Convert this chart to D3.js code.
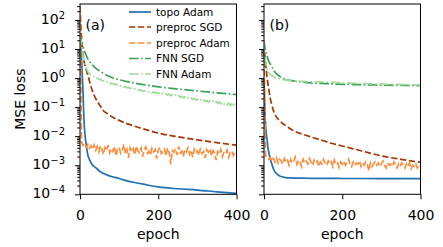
<!DOCTYPE html>
<html>
<head>
<meta charset="utf-8">
<script src="https://cdn.jsdelivr.net/npm/d3@7"></script>
<style>
  body { margin: 0; background: #fff; }
  text { font-family: "DejaVu Sans", sans-serif; fill: #000; }
</style>
</head>
<body>
<div id="chart"></div>
<script>
const w = 443;
const h = 247;

// epochs for the smooth curves
const epochs = [0, 2, 4, 6, 8, 10, 13, 16, 20, 25, 30, 40, 50, 60, 70, 80, 100, 120, 150, 175, 200, 250, 300, 350, 400];
// epochs for the noisy curves (every 4th epoch)
const noisyEpochs = d3.range(0, 401, 4);

const names = ['topo Adam', 'preproc SGD', 'preproc Adam', 'FNN SGD', 'FNN Adam'];
const colors = ['#2171b5', '#a63603', '#fd8d3c', '#31a354', '#a1d99b'];
const dashes = [null, '6.3,2.7', '6.3,2.7', '9.6,2.5,1.6,2.5', '9.6,2.5,1.6,2.5'];

const yTicks = [1e-4, 1e-3, 1e-2, 1e-1, 1e0, 1e1, 1e2];
const yTickExp = ['\u22124', '\u22123', '\u22122', '\u22121', '0', '1', '2'];
const xTicks = [0, 200, 400];

// ---- panel (a) ----
const topoA = [35, 12, 4, 1.2, 0.25, 0.04, 0.01, 0.005, 0.0023, 0.0015, 0.0011, 0.00083, 0.00062, 0.00052, 0.00046, 0.00041, 0.00035, 0.00029, 0.00024, 0.000205, 0.00018, 0.000155, 0.00014, 0.000122, 0.000108];
const sgdA = [300, 60, 25, 11, 6.5, 4, 2.6, 1.9, 1.3, 0.72, 0.42, 0.2, 0.12, 0.075, 0.06, 0.048, 0.035, 0.027, 0.02, 0.0158, 0.0128, 0.0095, 0.0075, 0.006, 0.0049];
const adamA = [300, 0.0062, 0.0048, 0.0055, 0.0041, 0.0052, 0.0038, 0.0047, 0.0035, 0.0050,
  0.0033, 0.0044, 0.0029, 0.0046, 0.0036, 0.0024, 0.0041, 0.0032, 0.0049, 0.0027,
  0.0038, 0.0030, 0.0045, 0.0021, 0.0036, 0.0042, 0.0026, 0.0033, 0.0052, 0.0025,
  0.0035, 0.0018, 0.0040, 0.0029, 0.0037, 0.0023, 0.0046, 0.0031, 0.0027, 0.0039,
  0.0020, 0.0034, 0.0043, 0.0026, 0.0031, 0.0022, 0.0038, 0.0029, 0.0035, 0.0017,
  0.0033, 0.0041, 0.0025, 0.0030, 0.0036, 0.0021, 0.0039, 0.0027, 0.0011, 0.0032,
  0.0028, 0.0037, 0.0023, 0.0044, 0.0026, 0.0031, 0.0020, 0.0035, 0.0029, 0.0040,
  0.0024, 0.0033, 0.0019, 0.0036, 0.0027, 0.0031, 0.0022, 0.0039, 0.0025, 0.0030,
  0.0018, 0.0034, 0.0028, 0.0037, 0.0021, 0.0032, 0.0026, 0.0015, 0.0030, 0.0024,
  0.0035, 0.0020, 0.0029, 0.0026, 0.0033, 0.0019, 0.0027, 0.0031, 0.0022, 0.0028, 0.0024];
const fnnSgdA = [30, 22, 17, 14, 11.5, 9.5, 7.5, 6, 4.6, 3.6, 3.0, 2.2, 1.75, 1.45, 1.22, 1.07, 0.88, 0.76, 0.63, 0.56, 0.5, 0.42, 0.36, 0.31, 0.27];
const fnnAdamA = [30, 14, 6, 3.6, 2.2, 1.65, 1.4, 1.27, 1.12, 1.14,
  1.02, 0.99, 0.88, 0.93, 0.81, 0.80, 0.73, 0.76, 0.68, 0.71,
  0.64, 0.66, 0.60, 0.63, 0.56, 0.58, 0.53, 0.55, 0.49, 0.51,
  0.46, 0.48, 0.44, 0.45, 0.41, 0.43, 0.39, 0.40, 0.37, 0.39,
  0.35, 0.37, 0.34, 0.36, 0.33, 0.34, 0.31, 0.33, 0.30, 0.32,
  0.30, 0.31, 0.28, 0.30, 0.27, 0.29, 0.26, 0.28, 0.25, 0.27,
  0.24, 0.26, 0.23, 0.25, 0.22, 0.235, 0.21, 0.225, 0.20, 0.215,
  0.19, 0.205, 0.185, 0.20, 0.175, 0.185, 0.165, 0.18, 0.16, 0.175,
  0.155, 0.17, 0.15, 0.165, 0.145, 0.16, 0.14, 0.155, 0.135, 0.15,
  0.13, 0.145, 0.125, 0.14, 0.12, 0.135, 0.115, 0.13, 0.105, 0.125, 0.115];

// ---- panel (b) ----
const topoB = [0.7, 0.1, 0.025, 0.012, 0.0075, 0.004, 0.0025, 0.0016, 0.0011, 0.0007, 0.00055, 0.00043, 0.00039, 0.00037, 0.000365, 0.00036, 0.000358, 0.000356, 0.000354, 0.000352, 0.00035, 0.00035, 0.000348, 0.000348, 0.000346];
const sgdB = [15, 7, 3.5, 1.8, 1.0, 0.65, 0.35, 0.2, 0.12, 0.07, 0.05, 0.034, 0.026, 0.021, 0.017, 0.0145, 0.0115, 0.0094, 0.0071, 0.0056, 0.0046, 0.0031, 0.0021, 0.0016, 0.00126];
const adamB = [8, 0.0021, 0.0018, 0.0016, 0.0019, 0.0014, 0.0017, 0.0013, 0.0018, 0.0012,
  0.0016, 0.0014, 0.0011, 0.0017, 0.0013, 0.0015, 0.0010, 0.0016, 0.0012, 0.0014,
  0.0019, 0.0011, 0.0015, 0.0013, 0.0009, 0.0016, 0.0012, 0.0014, 0.0011, 0.0017,
  0.0013, 0.0010, 0.0015, 0.0012, 0.0014, 0.0009, 0.0013, 0.0011, 0.0016, 0.0012,
  0.0010, 0.0014, 0.0011, 0.0013, 0.0009, 0.0015, 0.0011, 0.0012, 0.00085, 0.0013,
  0.0011, 0.0014, 0.0010, 0.0012, 0.0016, 0.0011, 0.0009, 0.0013, 0.0010, 0.0012,
  0.0011, 0.0014, 0.0009, 0.0012, 0.0010, 0.0013, 0.0011, 0.00065, 0.0012, 0.0009,
  0.0011, 0.0013, 0.0010, 0.0012, 0.0009, 0.0011, 0.0014, 0.0010, 0.0008, 0.0012,
  0.0010, 0.0011, 0.0009, 0.0013, 0.0010, 0.0008, 0.0011, 0.0009, 0.0012, 0.0010,
  0.0008, 0.0011, 0.0009, 0.0012, 0.00075, 0.0010, 0.0009, 0.0011, 0.0008, 0.0010, 0.0009];
const fnnSgdB = [20, 12, 9, 7.2, 5.8, 4.6, 3.6, 3.0, 2.4, 1.85, 1.5, 1.15, 0.97, 0.88, 0.82, 0.78, 0.72, 0.68, 0.65, 0.63, 0.61, 0.59, 0.575, 0.56, 0.55];
const fnnAdamB = [20, 7, 3.5, 2.4, 1.9, 1.65, 1.45, 1.33, 1.22, 1.1, 1.02, 0.95, 0.88, 0.84, 0.81, 0.79, 0.77, 0.75, 0.73, 0.71, 0.69, 0.65, 0.62, 0.6, 0.58];

const plotTop = 4, plotBottom = 194.3;
const panels = [
  { left: 80, right: 236.5, tag: '(a)', yLabels: true,
    xs: [epochs, epochs, noisyEpochs, epochs, noisyEpochs],
    ys: [topoA, sgdA, adamA, fnnSgdA, fnnAdamA] },
  { left: 264, right: 420.5, tag: '(b)', yLabels: false,
    xs: [epochs, epochs, noisyEpochs, epochs, epochs],
    ys: [topoB, sgdB, adamB, fnnSgdB, fnnAdamB] }
];

const svg = d3.select('#chart').append('svg')
  .attr('width', w)
  .attr('height', h);

const y = d3.scaleLog().domain([1e-4, Math.pow(10, 2.55)]).range([plotBottom, plotTop]);

// minor ticks 2..9 of every decade inside the domain
const minors = [];
for (let e = -4; e <= 2; e++) {
  for (let m = 2; m <= 9; m++) {
    const v = m * Math.pow(10, e);
    if (v <= y.domain()[1]) minors.push(v);
  }
}

panels.forEach((p, pi) => {
  const x = d3.scaleLinear().domain([0, 400]).range([p.left, p.right]);
  const g = svg.append('g');

  g.append('clipPath').attr('id', 'clip' + pi)
    .append('rect')
    .attr('x', p.left).attr('y', plotTop)
    .attr('width', p.right - p.left).attr('height', plotBottom - plotTop);

  const plot = g.append('g').attr('clip-path', 'url(#clip' + pi + ')');
  names.forEach((n, i) => {
    const pts = p.xs[i].map((e, k) => [e, p.ys[i][k]]);
    const smooth = p.xs[i] === epochs;
    const line = d3.line()
      .x(d => x(d[0]))
      .y(d => y(d[1]))
      .curve(smooth ? d3.curveMonotoneX : d3.curveLinear);
    plot.append('path')
      .datum(pts)
      .attr('d', line)
      .attr('fill', 'none')
      .attr('stroke', colors[i])
      .attr('stroke-width', 1.7)
      .attr('stroke-dasharray', dashes[i]);
  });

  // x axis
  const xAxis = g.append('g')
    .attr('transform', `translate(0,${plotBottom})`)
    .call(d3.axisBottom(x).tickValues(xTicks).tickSize(5).tickPadding(10.5));
  xAxis.select('.domain').remove();
  xAxis.selectAll('text').style('font-size', '14px').style('font-family', '"DejaVu Sans", sans-serif');

  g.append('text')
    .attr('x', (p.left + p.right) / 2)
    .attr('y', 239)
    .attr('text-anchor', 'middle')
    .style('font-size', '14px')
    .text('epoch');

  // y axis, major and minor ticks
  const yAxis = g.append('g')
    .attr('transform', `translate(${p.left},0)`)
    .call(d3.axisLeft(y).tickValues(yTicks).tickSize(5).tickFormat(() => ''));
  yAxis.select('.domain').remove();
  const yMinor = g.append('g')
    .attr('transform', `translate(${p.left},0)`)
    .call(d3.axisLeft(y).tickValues(minors).tickSize(2.8).tickFormat(() => ''));
  yMinor.select('.domain').remove();
  g.selectAll('.tick line').attr('stroke', '#000').attr('stroke-width', 1);

  if (p.yLabels) {
    yTicks.forEach((v, i) => {
      const t = g.append('text')
        .attr('x', 65)
        .attr('y', y(v) + 4)
        .attr('text-anchor', 'end')
        .style('font-size', '14px');
      t.append('tspan').text('10');
      t.append('tspan').attr('dy', -5).style('font-size', '10px').text(yTickExp[i]);
    });
    g.append('text')
      .attr('transform', `translate(25,${(plotTop + plotBottom) / 2}) rotate(-90)`)
      .attr('text-anchor', 'middle')
      .style('font-size', '14px')
      .text('MSE loss');
  }

  // frame
  g.append('rect')
    .attr('x', p.left).attr('y', plotTop)
    .attr('width', p.right - p.left).attr('height', plotBottom - plotTop)
    .attr('fill', 'none')
    .attr('stroke', '#000')
    .attr('stroke-width', 1);

  g.append('text')
    .attr('x', p.left + 5.5)
    .attr('y', 29.5)
    .style('font-size', '14px')
    .text(p.tag);
});

// legend, inside panel (a), no frame
const legY = [12, 27, 43, 58.5, 74];
const leg = svg.append('g');
names.forEach((n, i) => {
  leg.append('line')
    .attr('x1', 129).attr('x2', 151)
    .attr('y1', legY[i]).attr('y2', legY[i])
    .attr('stroke', colors[i])
    .attr('stroke-width', 1.7)
    .attr('stroke-dasharray', dashes[i]);
  leg.append('text')
    .attr('x', 156)
    .attr('y', legY[i])
    .attr('dy', '0.36em')
    .style('font-size', '10.5px')
    .text(n);
});
</script>
</body>
</html>
